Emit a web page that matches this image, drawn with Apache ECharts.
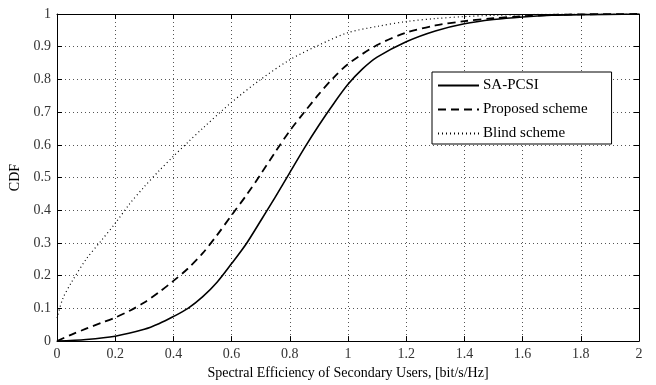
<!DOCTYPE html>
<html><head><meta charset="utf-8">
<script src="https://cdn.jsdelivr.net/npm/echarts@6/dist/echarts.min.js"></script>
<style>html,body{margin:0;padding:0;background:#fff}#c{width:656px;height:385px}</style>
</head><body><div id="c"></div>
<script>
const seriesNames = ['SA-PCSI', 'Proposed scheme', 'Blind scheme'];
const xTicks = [0, 0.2, 0.4, 0.6, 0.8, 1, 1.2, 1.4, 1.6, 1.8, 2];
const yTicks = [0, 0.1, 0.2, 0.3, 0.4, 0.5, 0.6, 0.7, 0.8, 0.9, 1];

const saX = [0, 0.1, 0.2, 0.3, 0.35, 0.4, 0.45, 0.5, 0.55, 0.6, 0.65, 0.7, 0.75, 0.8, 0.85, 0.9, 0.95, 1.0, 1.05, 1.1, 1.2, 1.3, 1.4, 1.5, 1.6, 1.7, 1.8, 2.0];
const saY = [0, 0.005, 0.015, 0.036, 0.053, 0.075, 0.1, 0.135, 0.18, 0.237, 0.297, 0.368, 0.44, 0.515, 0.59, 0.66, 0.725, 0.785, 0.832, 0.868, 0.915, 0.948, 0.97, 0.983, 0.991, 0.996, 0.998, 1.0];

const propX = [0, 0.05, 0.1, 0.15, 0.2, 0.25, 0.3, 0.35, 0.4, 0.45, 0.5, 0.55, 0.6, 0.65, 0.7, 0.75, 0.8, 0.85, 0.9, 0.95, 1.0, 1.1, 1.2, 1.3, 1.4, 1.5, 1.6, 1.7, 1.8, 2.0];
const propY = [0, 0.02, 0.038, 0.055, 0.072, 0.093, 0.118, 0.149, 0.184, 0.222, 0.268, 0.324, 0.385, 0.445, 0.51, 0.578, 0.643, 0.70, 0.755, 0.805, 0.847, 0.905, 0.943, 0.965, 0.978, 0.987, 0.993, 0.997, 0.999, 1.0];

const blindX = [0, 0.02, 0.05, 0.1, 0.15, 0.2, 0.25, 0.3, 0.35, 0.4, 0.45, 0.5, 0.6, 0.7, 0.8, 0.9, 1.0, 1.1, 1.2, 1.3, 1.4, 1.5, 1.6, 1.8, 2.0];
const blindY = [0.07, 0.13, 0.18, 0.25, 0.305, 0.36, 0.42, 0.472, 0.52, 0.565, 0.608, 0.65, 0.73, 0.80, 0.86, 0.905, 0.943, 0.962, 0.977, 0.986, 0.992, 0.996, 0.998, 1.0, 1.0];

const zip = (xs, ys) => xs.map((x, i) => [x, ys[i]]);
const FONT = 'Liberation Serif';
const chart = echarts.init(document.getElementById('c'), null, {renderer: 'canvas'});

const baseX = {
  type: 'value', min: 0, max: 2, interval: 0.2,
  axisLine: {show: true, onZero: false, lineStyle: {color: '#000', width: 1}},
  axisTick: {show: true, inside: true, length: 5, lineStyle: {color: '#000'}},
};
const baseY = {
  type: 'value', min: 0, max: 1, interval: 0.1,
  axisLine: {show: true, onZero: false, lineStyle: {color: '#000', width: 1}},
  axisTick: {show: true, inside: true, length: 5, lineStyle: {color: '#000'}},
};

chart.setOption({
  animation: false,
  backgroundColor: '#fff',
  textStyle: {fontFamily: FONT},
  grid: {left: 57, right: 17, top: 14, bottom: 38, containLabel: false},
  legend: {
    data: seriesNames,
    orient: 'vertical',
    left: 432, top: 72,
    width: 181,
    backgroundColor: '#fff',
    borderColor: '#000', borderWidth: 1,
    padding: [6, 24, 3, 5],
    itemWidth: 41, itemHeight: 14, itemGap: 9,
    itemStyle: {opacity: 0},
    textStyle: {fontFamily: FONT, fontSize: 15, color: '#000', padding: [0, 0, 0, -1]}
  },
  xAxis: [
    Object.assign({}, baseX, {
      position: 'bottom',
      name: 'Spectral Efficiency of Secondary Users, [bit/s/Hz]',
      nameLocation: 'middle', nameGap: 24,
      nameTextStyle: {fontFamily: FONT, fontSize: 14, color: '#000'},
      axisLabel: {fontFamily: FONT, fontSize: 14, color: '#333', margin: 6,
        formatter: v => String(Math.round(v * 10) / 10)},
      splitLine: {show: true, lineStyle: {color: '#555', type: [1, 3], width: 1}}
    }),
    Object.assign({}, baseX, {
      position: 'top', axisLabel: {show: false}, splitLine: {show: false}
    })
  ],
  yAxis: [
    Object.assign({}, baseY, {
      position: 'left',
      name: 'CDF', nameLocation: 'middle', nameGap: 34, nameRotate: 90,
      nameTextStyle: {fontFamily: FONT, fontSize: 14, color: '#000'},
      axisLabel: {fontFamily: FONT, fontSize: 14, color: '#333', margin: 6,
        formatter: v => String(Math.round(v * 10) / 10)},
      splitLine: {show: true, lineStyle: {color: '#555', type: [1, 3], width: 1}}
    }),
    Object.assign({}, baseY, {
      position: 'right', axisLabel: {show: false}, splitLine: {show: false}
    })
  ],
  series: [
    {name: seriesNames[0], type: 'line', data: zip(saX, saY), smooth: 0.3, symbol: 'none',
      lineStyle: {color: '#000', width: 1.6, type: 'solid'}, itemStyle: {color: '#000'}},
    {name: seriesNames[1], type: 'line', data: zip(propX, propY), smooth: 0.3, symbol: 'none',
      lineStyle: {color: '#000', width: 1.8, type: [8, 5]}, itemStyle: {color: '#000'}},
    {name: seriesNames[2], type: 'line', data: zip(blindX, blindY), smooth: 0.3, symbol: 'none',
      lineStyle: {color: '#000', width: 1.2, type: [1, 3]}, itemStyle: {color: '#000'}}
  ]
});
</script>
</body></html>
